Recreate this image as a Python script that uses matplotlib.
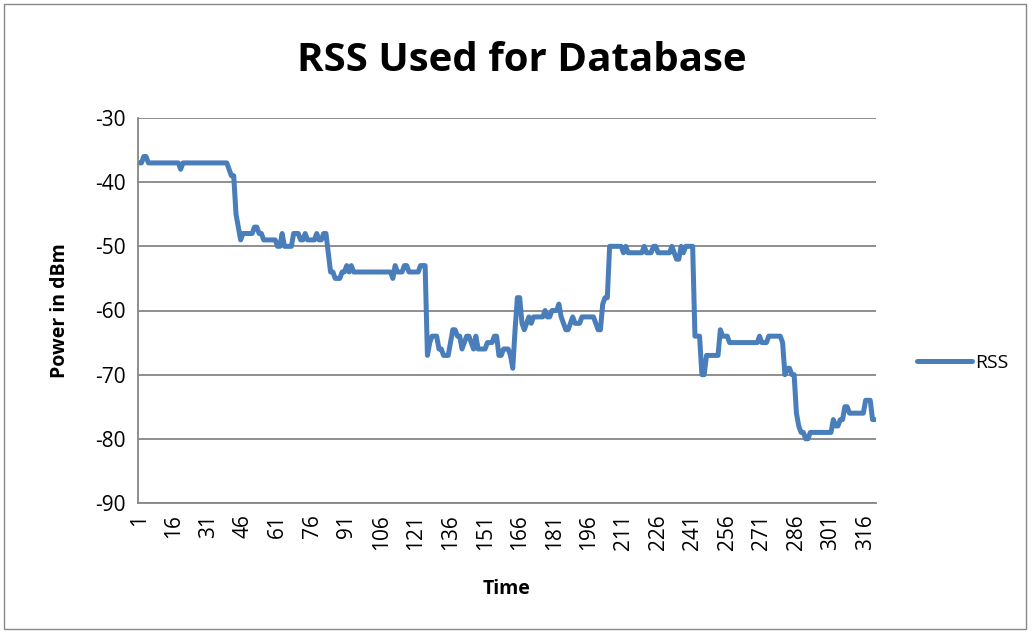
import matplotlib
matplotlib.use("Agg")
import matplotlib.pyplot as plt
from matplotlib.patches import Rectangle

# RSS readings (dBm), one per time step 1..320
rss = [
    -37, -37, -36, -36, -37, -37, -37, -37, -37, -37,
    -37, -37, -37, -37, -37, -37, -37, -37, -38, -37,
    -37, -37, -37, -37, -37, -37, -37, -37, -37, -37,
    -37, -37, -37, -37, -37, -37, -37, -37, -37, -38,
    -39, -39, -45, -47, -49, -48, -48, -48, -48, -48,
    -47, -47, -48, -48, -49, -49, -49, -49, -49, -49,
    -50, -50, -48, -50, -50, -50, -50, -48, -48, -48,
    -49, -49, -48, -49, -49, -49, -49, -48, -49, -49,
    -48, -48, -51, -54, -54, -55, -55, -55, -54, -54,
    -53, -54, -53, -54, -54, -54, -54, -54, -54, -54,
    -54, -54, -54, -54, -54, -54, -54, -54, -54, -54,
    -55, -53, -54, -54, -54, -53, -53, -54, -54, -54,
    -54, -54, -53, -53, -53, -67, -65, -64, -64, -64,
    -66, -66, -67, -67, -67, -65, -63, -63, -64, -64,
    -66, -65, -64, -64, -65, -66, -64, -66, -66, -66,
    -66, -65, -65, -65, -64, -64, -67, -67, -66, -66,
    -66, -67, -69, -63, -58, -58, -62, -63, -62, -61,
    -62, -61, -61, -61, -61, -61, -60, -61, -61, -60,
    -60, -60, -59, -61, -62, -63, -63, -62, -61, -62,
    -62, -62, -61, -61, -61, -61, -61, -61, -62, -63,
    -63, -59, -58, -58, -50, -50, -50, -50, -50, -50,
    -51, -50, -51, -51, -51, -51, -51, -51, -51, -50,
    -51, -51, -51, -50, -50, -51, -51, -51, -51, -51,
    -51, -50, -51, -52, -52, -50, -51, -50, -50, -50,
    -50, -64, -64, -64, -70, -70, -67, -67, -67, -67,
    -67, -67, -63, -64, -64, -64, -65, -65, -65, -65,
    -65, -65, -65, -65, -65, -65, -65, -65, -65, -64,
    -65, -65, -65, -64, -64, -64, -64, -64, -64, -65,
    -70, -69, -69, -70, -70, -76, -78, -79, -79, -80,
    -80, -79, -79, -79, -79, -79, -79, -79, -79, -79,
    -79, -77, -78, -78, -77, -77, -75, -75, -76, -76,
    -76, -76, -76, -76, -76, -74, -74, -74, -77, -77,
]
time = list(range(1, len(rss) + 1))
x_tick_labels = list(range(1, 317, 15))
y_ticks = [-90, -80, -70, -60, -50, -40, -30]

plt.rcParams['font.family'] = ['Open Sans', 'DejaVu Sans']
plt.rcParams['axes.unicode_minus'] = False

fig = plt.figure(figsize=(10.32, 6.33), dpi=100)
ax = fig.add_axes([138 / 1032, 1 - 503 / 633, (876 - 138) / 1032, (503 - 118) / 633])

grid_col = '#868686'
ax.plot(time, rss, color='#4A7EBB', linewidth=3.6, solid_joinstyle='round',
        solid_capstyle='round', label='RSS')

ax.set_xlim(0.5, len(rss) + 0.5)
ax.set_ylim(-90, -30)
ax.set_yticks(y_ticks)
ax.set_xticks(x_tick_labels)
ax.set_xticklabels([str(v) for v in x_tick_labels], rotation=90)
ax.tick_params(axis='both', length=0, labelsize=15, colors='black')
ax.tick_params(axis='x', pad=8)
ax.tick_params(axis='y', pad=9)

ax.yaxis.grid(True, color=grid_col, linewidth=1.3)
ax.set_axisbelow(True)
for side in ['top', 'right']:
    ax.spines[side].set_visible(False)
for side in ['left', 'bottom']:
    ax.spines[side].set_color(grid_col)
    ax.spines[side].set_linewidth(1.3)

ax.set_xlabel('Time', fontsize=14, fontweight='bold', labelpad=21)
ax.set_ylabel('Power in dBm', fontsize=14, fontweight='bold', labelpad=18)

fig.text(0.506, 0.905, 'RSS Used for Database', ha='center', va='center',
         fontsize=29, fontweight='bold')

fig.legend(loc='center left', bbox_to_anchor=(0.872, 0.427), frameon=False,
           fontsize=14, handlelength=2.8, handletextpad=0.15)

# chart area border
fig.add_artist(Rectangle((0.004, 0.006), 0.99, 0.988, transform=fig.transFigure,
                         fill=False, edgecolor='#878787', linewidth=1))

fig.savefig('out.png', dpi=100)
